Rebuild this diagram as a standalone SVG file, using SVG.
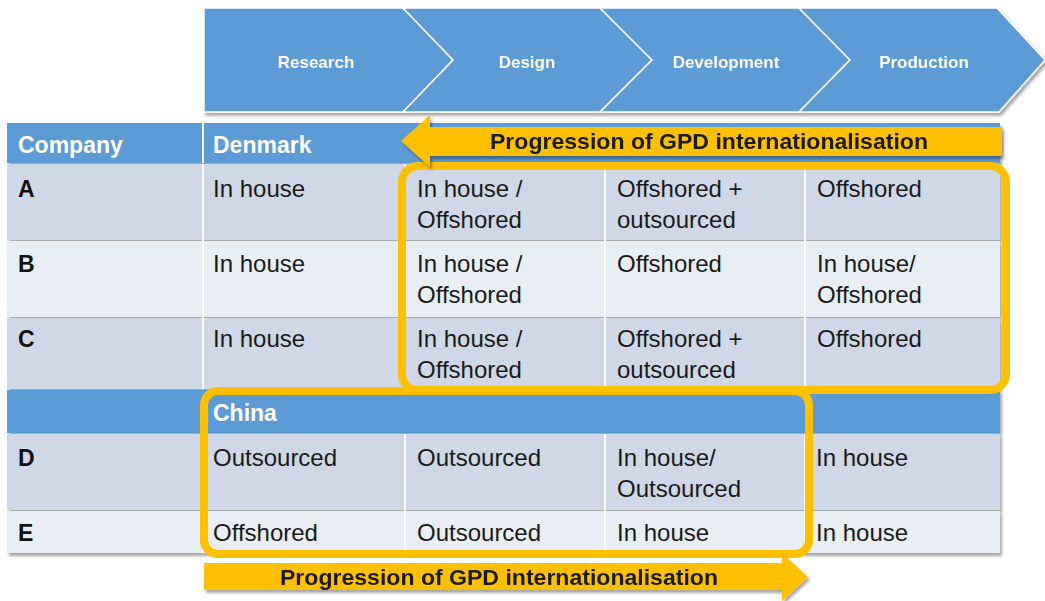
<svg xmlns="http://www.w3.org/2000/svg" width="1045" height="601" viewBox="0 0 1045 601">
<defs>
<filter id="sh" x="-5%" y="-5%" width="110%" height="115%">
<feDropShadow dx="2" dy="3" stdDeviation="1.5" flood-color="#000" flood-opacity="0.35"/>
</filter>
<style>
.chev{fill:#5b9bd5;stroke:#ffffff;stroke-width:1.5}
.chevt{font-family:"Liberation Sans",Arial,sans-serif;font-weight:bold;font-size:17px;fill:#ffffff;text-anchor:middle}
.hdr{fill:#5b9bd5}
.r1{fill:#d0d8e8}
.r2{fill:#e9edf4}
.ht{font-family:"Liberation Sans",Arial,sans-serif;font-weight:bold;font-size:23px;fill:#ffffff}
.lt{font-family:"Liberation Sans",Arial,sans-serif;font-weight:bold;font-size:23px;fill:#111111}
.ct{font-family:"Liberation Sans",Arial,sans-serif;font-size:24px;fill:#1a1a1a}
.div{stroke:#ffffff;stroke-width:2}
.obox{fill:none;stroke:#ffc000;stroke-width:8}
.arr{fill:#ffc000}
.at{font-family:"Liberation Sans",Arial,sans-serif;font-weight:bold;font-size:22px;fill:#1a1a1a;text-anchor:middle}
</style>
</defs>
<rect width="1045" height="601" fill="#ffffff"/>

<g id="chevrons" filter="url(#sh)">
<g id="chev-research"><polygon class="chev" points="204,8 403,8 453,60 403,112 204,112"/><text class="chevt" x="316" y="68">Research</text></g>
<g id="chev-design"><polygon class="chev" points="403,8 600,8 652,60 600,112 403,112 453,60"/><text class="chevt" x="527" y="68">Design</text></g>
<g id="chev-development"><polygon class="chev" points="600,8 799,8 850,60 799,112 600,112 652,60"/><text class="chevt" x="726" y="68">Development</text></g>
<g id="chev-production"><polygon class="chev" points="799,8 997,8 1045,60 999,112 799,112 850,60"/><text class="chevt" x="924" y="68">Production</text></g>
</g>

<g id="table">
<g id="table-bg" filter="url(#sh)">
<rect class="hdr" x="7" y="123" width="993" height="40"/>
<rect class="r1" x="7" y="164" width="993" height="76"/>
<rect class="r2" x="7" y="241" width="993" height="76"/>
<rect class="r1" x="7" y="318" width="993" height="71"/>
<rect class="hdr" x="7" y="390" width="993" height="43"/>
<rect class="r1" x="7" y="434" width="993" height="76"/>
<rect class="r2" x="7" y="511" width="993" height="42"/>
</g>
<g id="dividers">
<line class="div" x1="203" y1="123" x2="203" y2="163"/>
<line class="div" x1="203" y1="164" x2="203" y2="389"/>
<line class="div" x1="405" y1="164" x2="405" y2="389"/>
<line class="div" x1="605" y1="164" x2="605" y2="389"/>
<line class="div" x1="805" y1="164" x2="805" y2="389"/>
<line class="div" x1="203" y1="434" x2="203" y2="553"/>
<line class="div" x1="405" y1="434" x2="405" y2="553"/>
<line class="div" x1="605" y1="434" x2="605" y2="553"/>
<line class="div" x1="805" y1="434" x2="805" y2="553"/>
</g>
<g id="header">
<text class="ht" x="18" y="153">Company</text>
<text class="ht" x="213" y="153">Denmark</text>
<text class="ht" x="213" y="421">China</text>
</g>
<g id="row-A">
<text class="lt" x="18" y="197">A</text>
<text class="ct" x="213" y="197">In house</text>
<text class="ct" x="417" y="197">In house /</text><text class="ct" x="417" y="228">Offshored</text>
<text class="ct" x="617" y="197">Offshored +</text><text class="ct" x="617" y="228">outsourced</text>
<text class="ct" x="817" y="197">Offshored</text>
</g>
<g id="row-B">
<text class="lt" x="18" y="272">B</text>
<text class="ct" x="213" y="272">In house</text>
<text class="ct" x="417" y="272">In house /</text><text class="ct" x="417" y="303">Offshored</text>
<text class="ct" x="617" y="272">Offshored</text>
<text class="ct" x="817" y="272">In house/</text><text class="ct" x="817" y="303">Offshored</text>
</g>
<g id="row-C">
<text class="lt" x="18" y="347">C</text>
<text class="ct" x="213" y="347">In house</text>
<text class="ct" x="417" y="347">In house /</text><text class="ct" x="417" y="378">Offshored</text>
<text class="ct" x="617" y="347">Offshored +</text><text class="ct" x="617" y="378">outsourced</text>
<text class="ct" x="817" y="347">Offshored</text>
</g>
<g id="row-D">
<text class="lt" x="18" y="466">D</text>
<text class="ct" x="213" y="466">Outsourced</text>
<text class="ct" x="417" y="466">Outsourced</text>
<text class="ct" x="617" y="466">In house/</text><text class="ct" x="617" y="497">Outsourced</text>
<text class="ct" x="816" y="466">In house</text>
</g>
<g id="row-E">
<text class="lt" x="18" y="541">E</text>
<text class="ct" x="213" y="541">Offshored</text>
<text class="ct" x="417" y="541">Outsourced</text>
<text class="ct" x="617" y="541">In house</text>
<text class="ct" x="816" y="541">In house</text>
</g>
</g>

<g id="box-denmark"><rect class="obox" x="402" y="166" width="604" height="224" rx="16"/></g>
<g id="box-china"><rect class="obox" x="204" y="391" width="605" height="163" rx="14"/></g>

<g id="connectors">
<g id="arrow-top" filter="url(#sh)">
<polygon class="arr" points="1002,127 430,127 430,115 401,141 430,167 430,156 1002,156"/>
<text class="at" x="709" y="149" textLength="438" lengthAdjust="spacingAndGlyphs">Progression of GPD internationalisation</text>
</g>
<g id="arrow-bottom" filter="url(#sh)">
<polygon class="arr" points="204,563 782,563 782,553 808,577 782,601 782,590 204,590"/>
<text class="at" x="499" y="585" textLength="438" lengthAdjust="spacingAndGlyphs">Progression of GPD internationalisation</text>
</g>
</g>
</svg>
